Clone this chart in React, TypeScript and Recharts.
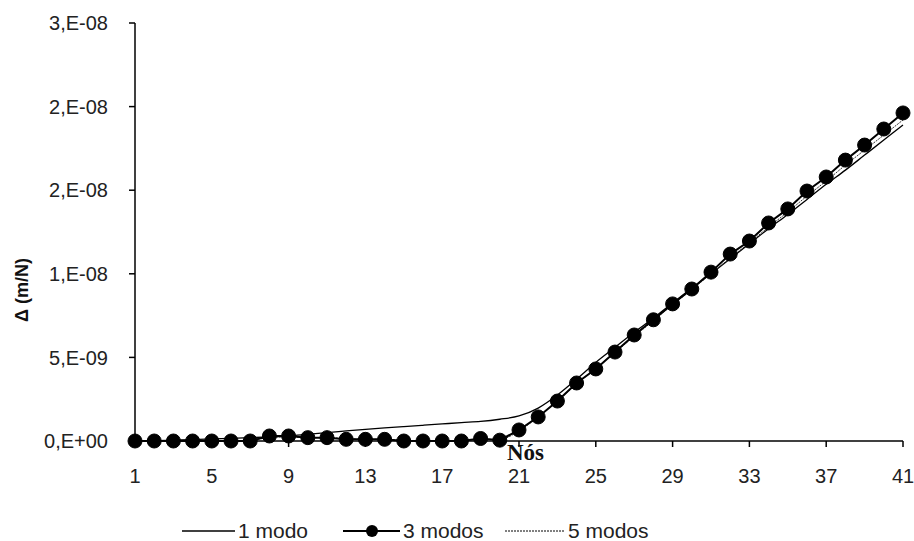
import React from 'react';
import { LineChart, Line, XAxis, YAxis, Legend, Label } from 'recharts';

// node numbers
const nodes: number[] = [
  1, 2, 3, 4, 5, 6, 7, 8, 9, 10, 11, 12, 13, 14, 15, 16, 17, 18, 19, 20, 21,
  22, 23, 24, 25, 26, 27, 28, 29, 30, 31, 32, 33, 34, 35, 36, 37, 38, 39, 40, 41,
];

// values in units of 1e-9 m/N
const modo1: number[] = [
  0, 0.02, 0.05, 0.08, 0.12, 0.16, 0.2, 0.25, 0.3, 0.4, 0.5, 0.6, 0.7, 0.78, 0.86, 0.94, 1.02, 1.1, 1.17, 1.3, 1.5,
  1.97, 2.75, 3.7, 4.7, 5.6, 6.5, 7.35, 8.25, 9.15, 10.0, 10.9, 11.8, 12.7, 13.55, 14.45, 15.35, 16.2, 17.1, 18.0, 18.9,
];
const modo3: number[] = [
  0, 0, 0, 0, 0, 0, 0, 0.3, 0.3, 0.2, 0.2, 0.1, 0.1, 0.1, 0, 0, 0, 0, 0.15, 0.05, 0.66,
  1.44, 2.39, 3.47, 4.31, 5.32, 6.34, 7.25, 8.2, 9.09, 10.1, 11.18, 11.96, 13.04, 13.88, 14.95, 15.79, 16.8, 17.7, 18.66, 19.62,
];
const modo5: number[] = [
  0, 0, 0, 0, 0, 0, 0.05, 0.2, 0.25, 0.2, 0.2, 0.15, 0.1, 0.1, 0.05, 0, 0, 0.05, 0.1, 0.1, 0.6,
  1.45, 2.4, 3.4, 4.35, 5.3, 6.25, 7.2, 8.15, 9.05, 10.0, 10.95, 11.85, 12.8, 13.7, 14.65, 15.55, 16.5, 17.4, 18.3, 19.2,
];

const xTicks: number[] = [1, 5, 9, 13, 17, 21, 25, 29, 33, 37, 41];
const yTicks: number[] = [0, 5, 10, 15, 20, 25];
const yTickLabels: string[] = ['0,E+00', '5,E-09', '1,E-08', '2,E-08', '2,E-08', '3,E-08'];
const seriesNames: string[] = ['1 modo', '3 modos', '5 modos'];

const data = nodes.map((n, i) => ({ node: n, m1: modo1[i], m3: modo3[i], m5: modo5[i] }));

const sans = '"Liberation Sans", Arial, sans-serif';
const tickFont = { fontFamily: sans, fontSize: 20, fill: '#222' };

const LegendContent = () => (
  <svg width={914} height={40} style={{ display: 'block', overflow: 'visible' }}>
    <line x1={182} y1={30} x2={235} y2={30} stroke="#000" strokeWidth={1.5} />
    <text x={238} y={37} fontFamily={sans} fontSize={21} fill="#222">{seriesNames[0]}</text>
    <line x1={343} y1={30} x2={400} y2={30} stroke="#000" strokeWidth={2} />
    <circle cx={372} cy={30} r={6} fill="#000" />
    <text x={403} y={37} fontFamily={sans} fontSize={21} fill="#222">{seriesNames[1]}</text>
    <line x1={505} y1={30} x2={565} y2={30} stroke="#000" strokeWidth={1} strokeDasharray="2 1" />
    <text x={568} y={37} fontFamily={sans} fontSize={21} fill="#222">{seriesNames[2]}</text>
  </svg>
);

export default function App() {
  return (
    <div style={{ position: 'absolute', left: 0, top: 0, background: '#fff' }}>
      <LineChart width={914} height={541} data={data} margin={{ top: 23, right: 11, bottom: 0, left: 0 }}>
        <XAxis
          dataKey="node"
          type="number"
          domain={[1, 41]}
          ticks={xTicks}
          tick={tickFont}
          tickSize={6}
          tickMargin={22}
          height={60}
          axisLine={{ stroke: '#000', strokeWidth: 1.5 }}
          tickLine={{ stroke: '#000', strokeWidth: 1.5 }}
          interval={0}
        >
          <Label
            content={() => (
              <text x={507} y={460} fontFamily='"Liberation Serif", "Times New Roman", serif' fontWeight="bold" fontSize={23} fill="#111">
                Nós
              </text>
            )}
          />
        </XAxis>
        <YAxis
          type="number"
          domain={[0, 25]}
          ticks={yTicks}
          tickFormatter={(v: number) => yTickLabels[yTicks.indexOf(v)]}
          tick={tickFont}
          tickSize={6}
          tickMargin={21}
          width={135}
          axisLine={{ stroke: '#000', strokeWidth: 1.5 }}
          tickLine={{ stroke: '#000', strokeWidth: 1.5 }}
          interval={0}
        >
          <Label
            content={() => (
              <text
                x={28}
                y={290}
                transform="rotate(-90 28 290)"
                textAnchor="middle"
                fontFamily={sans}
                fontWeight="bold"
                fontSize={18}
                fill="#111"
              >
                Δ  (m/N)
              </text>
            )}
          />
        </YAxis>
        <Legend verticalAlign="bottom" height={40} content={LegendContent} />
        <Line
          dataKey="m1"
          name={seriesNames[0]}
          type="monotone"
          stroke="#000"
          strokeWidth={1.3}
          dot={false}
          isAnimationActive={false}
        />
        <Line
          dataKey="m5"
          name={seriesNames[2]}
          type="monotone"
          stroke="#333"
          strokeWidth={1}
          strokeDasharray="2 1"
          dot={false}
          isAnimationActive={false}
        />
        <Line
          dataKey="m3"
          name={seriesNames[1]}
          type="linear"
          stroke="#000"
          strokeWidth={2}
          dot={{ r: 7, fill: '#000', stroke: '#000', strokeWidth: 1 }}
          isAnimationActive={false}
        />
      </LineChart>
    </div>
  );
}
